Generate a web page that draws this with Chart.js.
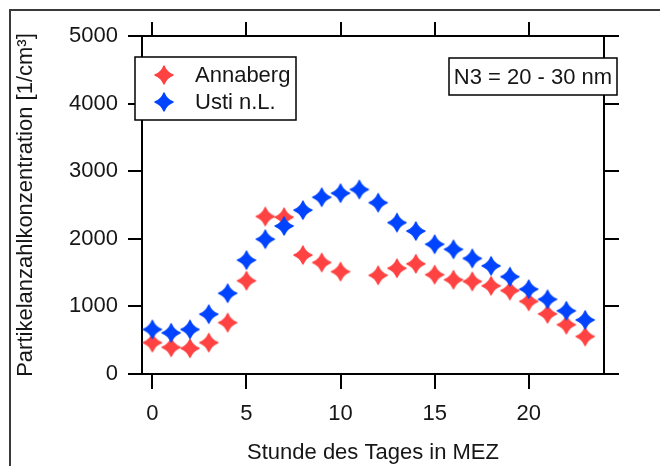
<!DOCTYPE html>
<html>
<head>
<meta charset="utf-8">
<script src="https://cdn.jsdelivr.net/npm/chart.js@4/dist/chart.umd.min.js"></script>
<style>
  html, body { margin: 0; padding: 0; background: #fff; }
  #c { display: block; }
</style>
</head>
<body>
<canvas id="c" width="660" height="466"></canvas>
<script>
// Hour of day (MEZ)
const hours = [0, 1, 2, 3, 4, 5, 6, 7, 8, 9, 10, 11, 12, 13, 14, 15, 16, 17, 18, 19, 20, 21, 22, 23];
// Particle number concentration, 20-30 nm, in 1/cm³ (Annaberg has no value at 11 h)
const annaberg = [465, 395, 380, 465, 760, 1380, 2330, 2320, 1760, 1650, 1515, null,
                  1460, 1565, 1630, 1470, 1395, 1370, 1305, 1235, 1075, 890, 730, 555];
const usti = [660, 610, 660, 885, 1195, 1685, 1995, 2190, 2425, 2615, 2675, 2730,
              2535, 2240, 2115, 1920, 1845, 1710, 1600, 1440, 1255, 1105, 935, 800];

const seriesNames = ['Annaberg', 'Usti n.L.'];
const seriesColors = ['#ff4242', '#0044ff'];
const xTickValues = [0, 5, 10, 15, 20];
const yTickValues = [0, 1000, 2000, 3000, 4000, 5000];
const xTitle = 'Stunde des Tages in MEZ';
const yTitle = 'Partikelanzahlkonzentration [1/cm³]';
const sizeRangeNote = 'N3 = 20 - 30 nm';

const FONT = "'Liberation Sans', Arial, sans-serif";
const INK = '#161616';
Chart.defaults.font.family = FONT;
Chart.defaults.font.size = 22;
Chart.defaults.color = INK;

// Four-pointed star marker drawn once per colour and used as a point style
function starMarker(color, r) {
  const s = Math.ceil(2 * r + 4);
  const c = document.createElement('canvas');
  c.width = s; c.height = s;
  const g = c.getContext('2d');
  const k = r * 0.28;
  g.translate(s / 2, s / 2);
  g.beginPath();
  g.moveTo(0, -r);
  g.quadraticCurveTo(k, -k, r, 0);
  g.quadraticCurveTo(k, k, 0, r);
  g.quadraticCurveTo(-k, k, -r, 0);
  g.quadraticCurveTo(-k, -k, 0, -r);
  g.closePath();
  g.fillStyle = color;
  g.strokeStyle = color;
  g.lineWidth = 1.4;
  g.lineJoin = 'round';
  g.fill();
  g.stroke();
  return c;
}

const toPoints = vals => hours.map((h, i) => ({ x: h, y: vals[i] }));

const setTicks = values => scale => { scale.ticks = values.map(v => ({ value: v })); };

const axisLine = { display: true, color: '#000', width: 2 };
const tickMarks = len => ({ drawOnChartArea: false, drawTicks: true, tickLength: len, color: '#000', lineWidth: 2 });

// Outer frame, the legend box and the size-range note
const decorations = {
  id: 'decorations',
  beforeDraw(chart) {
    const ctx = chart.ctx;
    ctx.save();
    ctx.strokeStyle = '#3a3a3a';
    ctx.lineWidth = 2;
    ctx.beginPath();
    ctx.moveTo(10, chart.height);
    ctx.lineTo(10, 10);
    ctx.lineTo(chart.width, 10);
    ctx.stroke();
    ctx.restore();
  },
  afterDraw(chart) {
    const ctx = chart.ctx;
    const area = chart.chartArea;
    ctx.save();
    ctx.lineWidth = 1.5;
    ctx.strokeStyle = '#000';
    ctx.font = '22px ' + FONT;
    ctx.textBaseline = 'middle';

    // legend box
    const lx = area.left - 7, ly = area.top + 21, lw = 161, lh = 63;
    ctx.fillStyle = '#fff';
    ctx.fillRect(lx, ly, lw, lh);
    ctx.strokeRect(lx, ly, lw, lh);
    chart.data.datasets.forEach((ds, i) => {
      const cy = ly + 18 + i * 27;
      const m = ds.pointStyle;
      ctx.drawImage(m, lx + 29 - m.width / 2, cy - m.height / 2);
      ctx.fillStyle = INK;
      ctx.textAlign = 'left';
      ctx.fillText(ds.label, lx + 60, cy + 1);
    });

    // size range note
    const nx = area.right - 155, ny = area.top + 22, nw = 168, nh = 37;
    ctx.fillStyle = '#fff';
    ctx.fillRect(nx, ny, nw, nh);
    ctx.strokeRect(nx, ny, nw, nh);
    ctx.fillStyle = INK;
    ctx.textAlign = 'center';
    ctx.fillText(sizeRangeNote, nx + nw / 2, ny + nh / 2 + 1);
    ctx.restore();
  }
};

new Chart(document.getElementById('c'), {
  type: 'scatter',
  data: {
    datasets: [
      { label: seriesNames[0], data: toPoints(annaberg), order: 1,
        pointStyle: starMarker(seriesColors[0], 9), pointRadius: 9, pointHoverRadius: 9,
        backgroundColor: seriesColors[0], borderColor: seriesColors[0] },
      { label: seriesNames[1], data: toPoints(usti), order: 0,
        pointStyle: starMarker(seriesColors[1], 9), pointRadius: 9, pointHoverRadius: 9,
        backgroundColor: seriesColors[1], borderColor: seriesColors[1] }
    ]
  },
  options: {
    responsive: false,
    animation: false,
    events: [],
    layout: { padding: 0 },
    plugins: { legend: { display: false }, tooltip: { enabled: false } },
    scales: {
      x: {
        type: 'linear', position: 'bottom', min: -0.55, max: 24,
        afterBuildTicks: setTicks(xTickValues),
        afterFit: s => { s.height = 92; },
        grid: tickMarks(15), border: axisLine,
        ticks: { padding: 12, maxRotation: 0, autoSkip: false, callback: v => String(v) },
        title: { display: true, text: xTitle, padding: { top: 0, bottom: 0 } }
      },
      xTop: {
        type: 'linear', position: 'top', min: -0.55, max: 24,
        afterBuildTicks: setTicks(xTickValues),
        afterFit: s => { s.height = 36; },
        grid: tickMarks(14), border: axisLine,
        ticks: { display: false }
      },
      y: {
        type: 'linear', position: 'left', min: 0, max: 5000,
        afterBuildTicks: setTicks(yTickValues),
        afterFit: s => { s.width = 142; },
        grid: tickMarks(14), border: axisLine,
        ticks: { padding: 10, autoSkip: false, callback: v => String(v) },
        title: { display: true, text: yTitle, padding: { top: 13, bottom: 0 } }
      },
      yRight: {
        type: 'linear', position: 'right', min: 0, max: 5000,
        afterBuildTicks: setTicks(yTickValues),
        afterFit: s => { s.width = 56; },
        grid: tickMarks(15), border: axisLine,
        ticks: { display: false }
      }
    }
  },
  plugins: [decorations]
});
</script>
</body>
</html>
